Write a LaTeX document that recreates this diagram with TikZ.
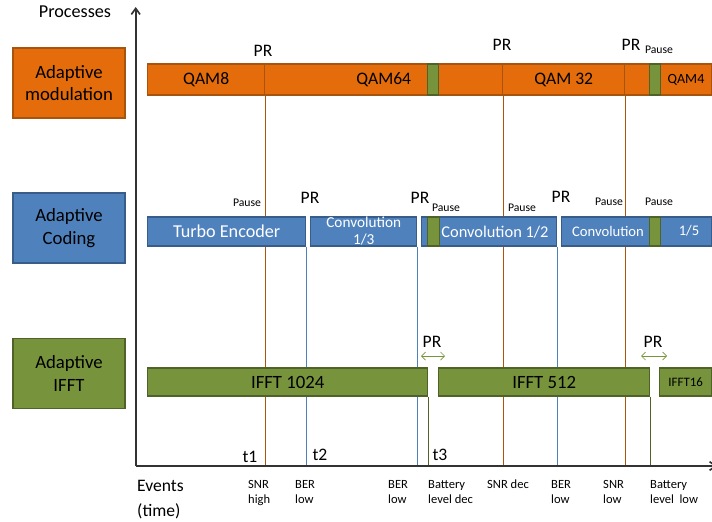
\documentclass[tikz,border=0pt]{standalone}
\usepackage{fontspec}
\setmainfont{Carlito}
\usepackage{tikz}
\usetikzlibrary{arrows.meta}
\definecolor{modorange}{HTML}{E46C0A}
\definecolor{modedge}{HTML}{A6540E}
\definecolor{codeblue}{HTML}{4F81BD}
\definecolor{codeedge}{HTML}{385D8A}
\definecolor{fftgreen}{HTML}{77933C}
\definecolor{fftedge}{HTML}{4F6228}
\definecolor{snrbrown}{HTML}{B0520A}
\definecolor{axisgray}{HTML}{333333}
\newcommand{\pxu}{0.03cm}
\pgfdeclarelayer{background}
\pgfsetlayers{background,main}
\tikzset{
  axis/.style={draw=axisgray, line width=1.4pt, -{Straight Barb[length=1.8mm,width=2.6mm]}},
  snrline/.style={draw=snrbrown, line width=1.25pt},
  berline/.style={draw=codeblue, line width=1.1pt},
  batline/.style={draw=fftedge, line width=1.1pt},
  prarrow/.style={draw=fftgreen, line width=0.6pt,
    {Straight Barb[length=1.2mm,width=2.4mm]}-{Straight Barb[length=1.2mm,width=2.4mm]}},
  procbox/.style={draw, line width=1.3pt, minimum width=112*\pxu, minimum height=70*\pxu,
    align=center, font=\fontsize{16}{19}\selectfont},
  seg/.style={line width=1.2pt, inner sep=0pt, align=center, anchor=west, minimum width=#1*\pxu},
  modseg/.style={seg=#1, fill=modorange, draw=modedge, minimum height=31*\pxu, font=\fontsize{15}{18}\selectfont},
  codseg/.style={seg=#1, fill=codeblue, draw=codeedge, minimum height=29*\pxu, text=white, font=\fontsize{15.5}{18}\selectfont},
  fftseg/.style={seg=#1, fill=fftgreen, draw=fftedge, minimum height=28*\pxu, font=\fontsize{16}{19}\selectfont},
  pausebox/.style={seg=#1, fill=fftgreen, draw=fftedge},
  prlabel/.style={font=\fontsize{15}{17}\selectfont, inner sep=0pt},
  pauselabel/.style={font=\fontsize{10}{12}\selectfont, inner sep=0pt},
  evlabel/.style={font=\fontsize{10.7}{13}\selectfont, align=left, anchor=north west, inner sep=0pt},
  tlabel/.style={font=\fontsize{15}{18}\selectfont, inner sep=0pt}
}

\begin{document}
\begin{tikzpicture}[x=0.03cm,y=-0.03cm]
  \useasboundingbox (0,0) rectangle (712,521);

  % axes
  \coordinate (origin) at (135.7,466);
  \coordinate (ytop) at (135.7,7);
  \coordinate (xend) at (717,466);
  \draw[axis] (origin) -- (ytop);
  \draw[axis] (origin) -- (xend);
  \node[font=\fontsize{15.5}{18}\selectfont] (yname) at (75,12) {Processes};
  \node[font=\fontsize{15}{21}\selectfont, align=left, anchor=north west, inner sep=0pt] (xname) at (137,480)
    {Events\\(time)};

  % processes
  \node[procbox, fill=modorange, draw=modedge] (procmod) at (69,83) {Adaptive\\modulation};
  \node[procbox, fill=codeblue, draw=codeedge] (proccod) at (69,228) {Adaptive\\Coding};
  \node[procbox, fill=fftgreen, draw=fftedge] (procfft) at (69,373.5) {Adaptive\\IFFT};

  % modulation row
  \node[modseg=117] (qam8) at (147,79.5) {QAM8};
  \node[modseg=238] (qam64) at (264,79.5) {QAM64};
  \node[modseg=122] (qam32) at (502,79.5) {QAM 32};
  \node[modseg=87] (qamend) at (624,79.5) {};
  \node[font=\fontsize{12}{14}\selectfont] (qam4) at (686,80) {QAM4};

  % coding row
  \node[codseg=158] (turbo) at (147,231.5) {Turbo Encoder};
  \node[codseg=106, font=\fontsize{13}{14.5}\selectfont] (conv13) at (310,231.5) {Convolution\\1/3};
  \node[codseg=135] (conv12) at (421,231.5) {};
  \node[codseg=150] (conv15) at (561,231.5) {};
  \node[text=white, font=\fontsize{14}{17}\selectfont] (conv12txt) at (495,232) {Convolution 1/2};
  \node[text=white, font=\fontsize{12.5}{14}\selectfont] (conv15txt) at (608,231) {Convolution};
  \node[text=white, font=\fontsize{12.5}{14}\selectfont] (conv15num) at (689,231) {1/5};

  % IFFT row
  \node[fftseg=280] (ifft1024) at (147,382) {IFFT 1024};
  \node[fftseg=211] (ifft512) at (438,382) {IFFT 512};
  \node[fftseg=52, font=\fontsize{11}{13}\selectfont] (ifft16) at (659,382) {IFFT16};

  % event lines
  \begin{pgfonlayer}{background}
    \draw[snrline] (qam8.south east) -- (qam8.south east |- origin);
    \draw[snrline] (qam64.south east) -- (qam64.south east |- origin);
    \draw[snrline] (qam32.south east) -- (qam32.south east |- origin);
    \draw[berline] (turbo.south east) -- (turbo.south east |- origin);
    \draw[berline] (conv13.south east) -- (conv13.south east |- origin);
    \draw[berline] (conv12.south east) -- (conv12.south east |- origin);
    \draw[batline] (ifft1024.south east) -- (ifft1024.south east |- origin);
    \draw[batline] (ifft512.south east) -- (ifft512.south east |- origin);
  \end{pgfonlayer}

  % pauses
  \node[pausebox=11, minimum height=31*\pxu] (modpausea) at (427,79.5) {};
  \node[pausebox=11, minimum height=31*\pxu] (modpauseb) at (649,79.5) {};
  \node[pausebox=12, minimum height=29*\pxu] (codpausea) at (427,231.5) {};
  \node[pausebox=11, minimum height=29*\pxu] (codpauseb) at (649,231.5) {};

  % reconfiguration labels
  \node[prlabel] (prmoda) at (263,51) {PR};
  \node[prlabel] (prmodb) at (502,45) {PR};
  \node[prlabel] (prmodc) at (631,45) {PR};
  \node[pauselabel] (psmodc) at (659,50) {Pause};
  \node[pauselabel] (pscoda) at (247,203) {Pause};
  \node[prlabel] (prcoda) at (310,198) {PR};
  \node[prlabel] (prcodb) at (420,198) {PR};
  \node[pauselabel] (pscodb) at (446,208) {Pause};
  \node[pauselabel] (pscodc) at (522,208) {Pause};
  \node[prlabel] (prcodc) at (561,197) {PR};
  \node[pauselabel] (pscodd) at (609,202) {Pause};
  \node[pauselabel] (pscode) at (659,202) {Pause};
  \node[prlabel] (prffta) at (432,342) {PR};
  \node[prlabel] (prfftb) at (653,342) {PR};
  \coordinate (pra1) at (421,356);
  \coordinate (pra2) at (445,356);
  \coordinate (prb1) at (641,356);
  \coordinate (prb2) at (667,356);
  \draw[prarrow] (pra1) -- (pra2);
  \draw[prarrow] (prb1) -- (prb2);

  % time marks
  \node[tlabel] (tone) at (250,457) {t1};
  \node[tlabel] (ttwo) at (320,455) {t2};
  \node[tlabel] (tthree) at (440,455) {t3};

  % events
  \node[evlabel] (ev1) at (248,480) {SNR\\high};
  \node[evlabel] (ev2) at (295,480) {BER\\low};
  \node[evlabel] (ev3) at (388,480) {BER\\low};
  \node[evlabel] (ev4) at (428,480) {Battery\\level dec};
  \node[evlabel] (ev5) at (487,480) {SNR dec};
  \node[evlabel] (ev6) at (551,480) {BER\\low};
  \node[evlabel] (ev7) at (603,480) {SNR\\low};
  \node[evlabel] (ev8) at (650,480) {Battery\\level\ \ low};
\end{tikzpicture}
\end{document}
